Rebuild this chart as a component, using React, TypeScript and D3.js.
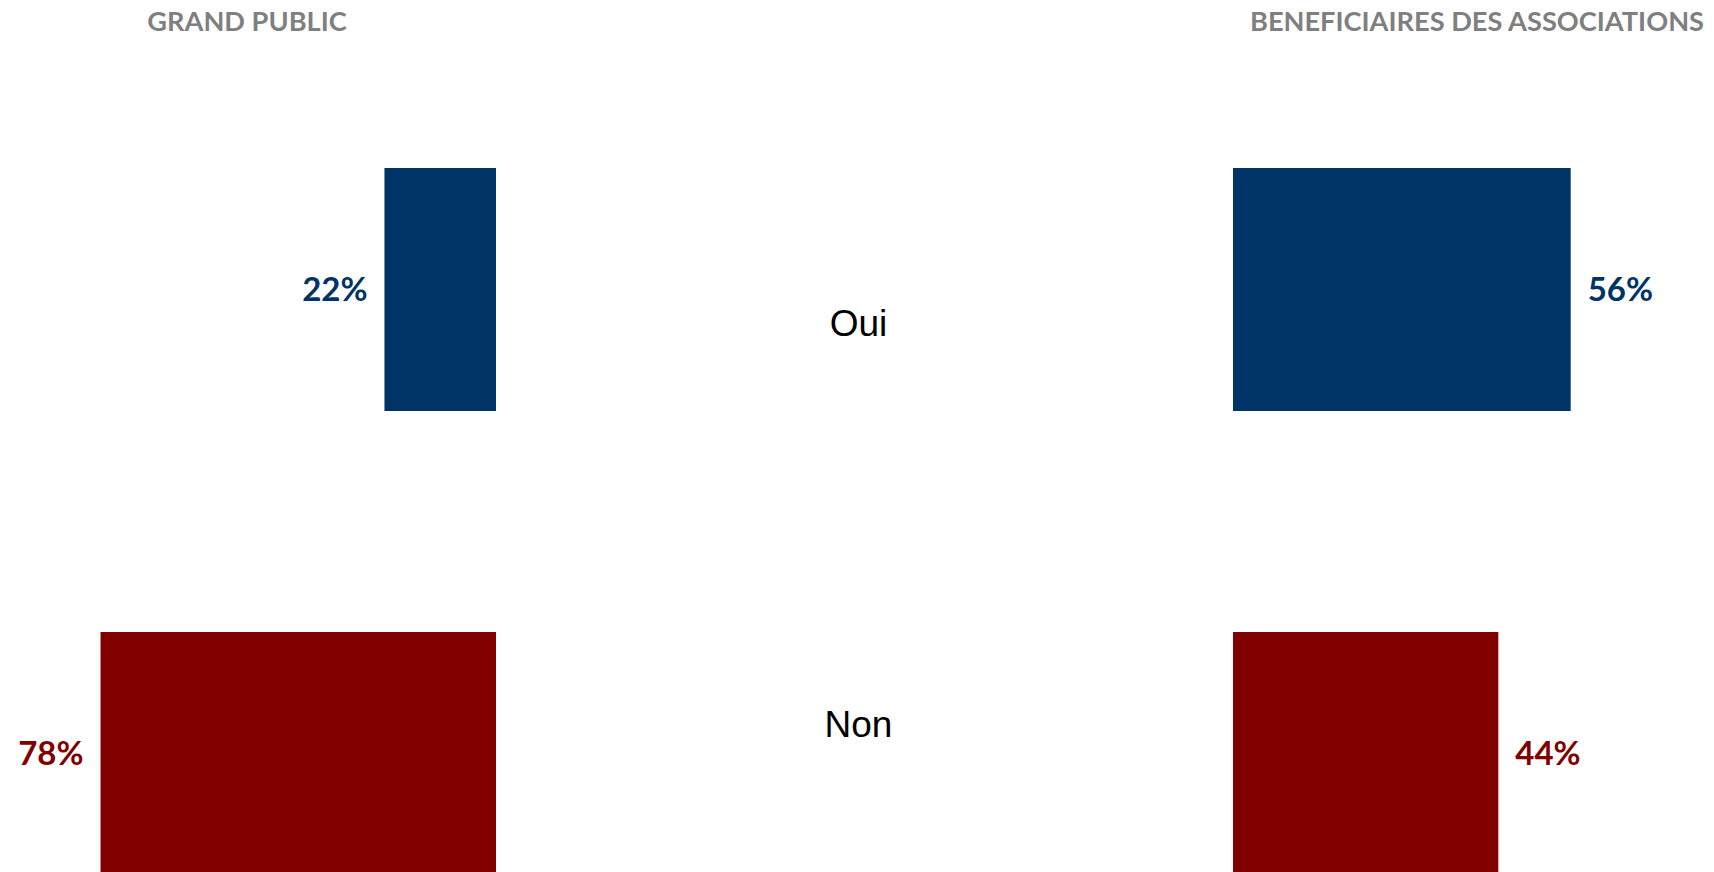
import React from "react";
import * as d3 from "d3";

const categories = ["Oui", "Non"];
const groups = ["GRAND PUBLIC", "BENEFICIAIRES DES ASSOCIATIONS"];
const grandPublic = [22, 78];
const beneficiaires = [56, 44];
const barColors = ["#003366", "#800000"];

const W = 1714;
const H = 872;

export default function App() {
  const y = d3.scaleBand<string>().domain(categories).range([168, 875]).paddingInner(0.4763).paddingOuter(0);
  const yLabel = d3.scalePoint<string>().domain(categories).range([323, 724]);
  // left panel: bars grow leftwards from x=496
  const xLeft = d3.scaleLinear().domain([0, 100]).range([496, 496 - 507]);
  // right panel: bars grow rightwards from x=1233
  const xRight = d3.scaleLinear().domain([0, 100]).range([1233, 1233 + 603]);

  const labelFont = "Lato, 'Open Sans', sans-serif";

  return (
    <svg width={W} height={H} style={{ position: "absolute", left: 0, top: 0, background: "#fff" }}>
      <rect x={0} y={0} width={W} height={H} fill="#fff" />
      <text x={247} y={31} textAnchor="middle" fontFamily={labelFont} fontWeight={700} fontSize={27.2} fill="#7f7f7f">
        {groups[0]}
      </text>
      <text x={1477} y={31} textAnchor="middle" fontFamily={labelFont} fontWeight={700} fontSize={27.2} fill="#7f7f7f">
        {groups[1]}
      </text>

      {categories.map((c, i) => {
        const y0 = y(c)!;
        const bw = y.bandwidth();
        const cy = y0 + bw / 2;
        const vL = grandPublic[i];
        const vR = beneficiaires[i];
        return (
          <g key={c}>
            <rect x={xLeft(vL)} y={y0} width={xLeft(0) - xLeft(vL)} height={bw} fill={barColors[i]} />
            <text x={xLeft(vL) - 17} y={cy} dy="0.36em" textAnchor="end" fontFamily={labelFont} fontWeight={700} fontSize={33} fill={barColors[i]}>
              {vL}%
            </text>
            <rect x={xRight(0)} y={y0} width={xRight(vR) - xRight(0)} height={bw} fill={barColors[i]} />
            <text x={xRight(vR) + 17} y={cy} dy="0.36em" textAnchor="start" fontFamily={labelFont} fontWeight={700} fontSize={33} fill={barColors[i]}>
              {vR}%
            </text>
            <text x={858.5} y={yLabel(c)!} dy="0.36em" textAnchor="middle" fontFamily="'Liberation Sans', Arial, sans-serif" fontSize={37} fill="#000">
              {c}
            </text>
          </g>
        );
      })}
    </svg>
  );
}
